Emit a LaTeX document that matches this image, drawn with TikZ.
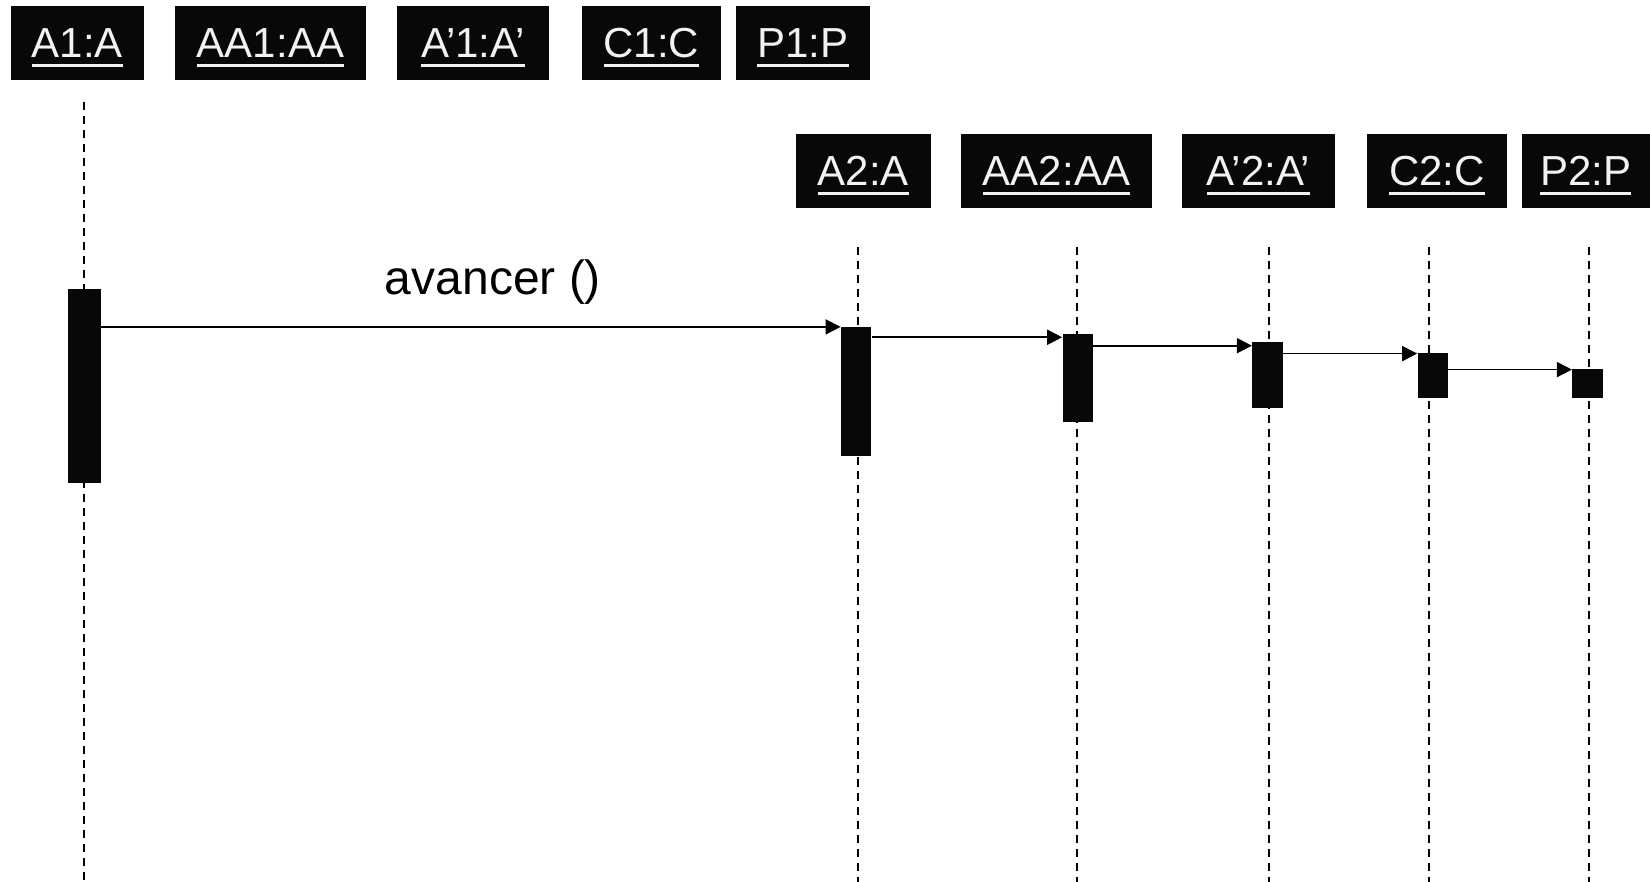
\documentclass[tikz,border=0pt]{standalone}
\usepackage{fontspec}
\setmainfont{Liberation Sans}
\usetikzlibrary{arrows.meta,calc}
\definecolor{boxblack}{HTML}{080808}
\definecolor{boxtext}{HTML}{F2F2F2}
\newsavebox{\objulbox}
\newcommand{\objul}[1]{\sbox{\objulbox}{#1}\leavevmode\rlap{\smash{\rule[-4.7pt]{\wd\objulbox}{1.35pt}}}\usebox{\objulbox}}
\tikzset{
  obj/.style={fill=boxblack, draw=none, inner sep=0pt, text=boxtext,
    font=\fontsize{21pt}{21pt}\selectfont},
  act/.style={fill=boxblack, draw=none, inner sep=0pt, minimum width=15.2pt},
  life/.style={line width=1pt, dash pattern=on 4pt off 3pt},
  msg/.style={line width=0.85pt, -{Triangle[length=7.5pt,width=7.5pt]}},
}
\begin{document}
\begin{tikzpicture}[x=0.5pt,y=-0.5pt]
\useasboundingbox (0,0) rectangle (1650,882);
% row 1 objects
\node[obj, minimum width=66.75pt, minimum height=37pt] (A1) at (77.3,43) {\objul{A1:A}};
\node[obj, minimum width=95.75pt, minimum height=37pt] (AA1) at (270.5,43) {\objul{AA1:AA}};
\node[obj, minimum width=76.3pt, minimum height=37pt] (Ap1) at (473,43) {\objul{A’1:A’}};
\node[obj, minimum width=69.5pt, minimum height=37pt] (C1) at (651.4,43) {\objul{C1:C}};
\node[obj, minimum width=67.35pt, minimum height=37pt] (P1) at (803,43) {\objul{P1:P}};
% row 2 objects
\node[obj, minimum width=67.9pt, minimum height=37.4pt] (A2) at (863.4,171) {\objul{A2:A}};
\node[obj, minimum width=95.8pt, minimum height=37.4pt] (AA2) at (1056.5,171) {\objul{AA2:AA}};
\node[obj, minimum width=76.85pt, minimum height=37.4pt] (Ap2) at (1258.5,171) {\objul{A’2:A’}};
\node[obj, minimum width=70pt, minimum height=37.4pt] (C2) at (1437,171) {\objul{C2:C}};
\node[obj, minimum width=64.2pt, minimum height=37.4pt] (P2) at (1585.8,171) {\objul{P2:P}};
% lifelines
\coordinate (lA1t) at (84.2,102);   \coordinate (lA1b) at (84.2,882);
\coordinate (lA2t) at (857.6,247);  \coordinate (lA2b) at (857.6,882);
\coordinate (lAA2t) at (1077,247);  \coordinate (lAA2b) at (1077,882);
\coordinate (lAp2t) at (1269,247);  \coordinate (lAp2b) at (1269,882);
\coordinate (lC2t) at (1429.2,247); \coordinate (lC2b) at (1429.2,882);
\coordinate (lP2t) at (1589,247);   \coordinate (lP2b) at (1589,882);
\draw[life] (lA1t) -- (lA1b);
\draw[life] (lA2t) -- (lA2b);
\draw[life] (lAA2t) -- (lAA2b);
\draw[life] (lAp2t) -- (lAp2b);
\draw[life] (lC2t) -- (lC2b);
\draw[life] (lP2t) -- (lP2b);
% activations
\node[act, minimum width=16.75pt, minimum height=96.55pt] (xA1) at (84.25,386) {};
\node[act, minimum height=64.35pt] (xA2) at (856.2,391.65) {};
\node[act, minimum height=43.55pt] (xAA2) at (1077.8,378) {};
\node[act, minimum height=32.85pt] (xAp2) at (1267.5,375.15) {};
\node[act, minimum height=22.05pt] (xC2) at (1432.8,375.45) {};
\node[act, minimum height=14.1pt] (xP2) at (1587.5,383.4) {};
% messages
\draw[msg] (xA1.east |- xA2.north west) -- (xA2.north west);
\draw[msg] ($(xA2.east |- xAA2.north)+(0,-1.6pt)$) -- ($(xAA2.north west)+(0,-1.6pt)$);
\draw[msg] ($(xAA2.east |- xAp2.north)+(0,-1.9pt)$) -- ($(xAp2.north west)+(0,-1.9pt)$);
\draw[msg] ($(xAp2.east |- xC2.north)+(0,-0.3pt)$) -- ($(xC2.north west)+(0,-0.3pt)$);
\draw[msg] ($(xC2.east |- xP2.north)+(0,-0.35pt)$) -- ($(xP2.north west)+(0,-0.35pt)$);
\node[font=\fontsize{24pt}{24pt}\selectfont, anchor=base, inner sep=0pt] (lbl) at (493,295) {avancer ()};
\end{tikzpicture}
\end{document}
